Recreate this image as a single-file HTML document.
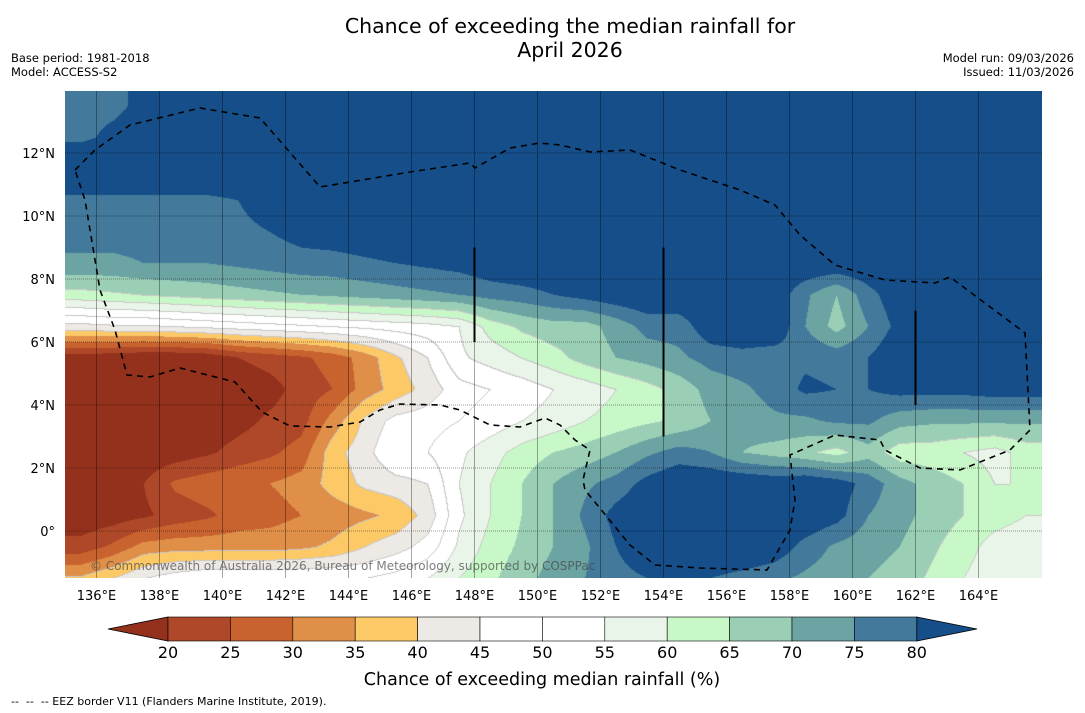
<!DOCTYPE html>
<html><head><meta charset="utf-8"><style>
body{margin:0;background:#fff;width:1085px;height:713px;overflow:hidden;position:relative;font-family:"DejaVu Sans",sans-serif}
.t{position:absolute;white-space:nowrap;color:#000}
canvas{position:absolute;left:65px;top:91px}
svg{position:absolute;left:0;top:0}
</style></head><body>
<div class="t" style="left:220px;width:700px;text-align:center;top:14px;font-size:20.5px;line-height:24px">Chance of exceeding the median rainfall for<br>April 2026</div>
<div class="t" style="left:11px;top:51px;font-size:11.5px;line-height:14px">Base period: 1981-2018<br>Model: ACCESS-S2</div>
<div class="t" style="right:11px;top:51px;font-size:11.5px;line-height:14px;text-align:right">Model run: 09/03/2026<br>Issued: 11/03/2026</div>
<canvas id="map" width="977" height="487"></canvas>
<svg id="ov" width="1085" height="713"></svg>
<div class="t" style="left:11px;top:695px;font-size:11px">--&nbsp; --&nbsp; -- EEZ border V11 (Flanders Marine Institute, 2019).</div>
<script>
const lons=[];for(let i=0;i<31;i++)lons.push(135.5+i);
const lats=[13.5,12.5,11.5,10.5,9.5,8.5,7.5,6.5,5.5,4.5,3.5,2.5,1.5,0.5,-0.5,-1.5];
const row13=[79,79,81,84,85,85,85,85,85,85,85,85,85,85,85,85,85,85,85,85,85,85,85,85,85,85,85,85,85,85,85];
const row12=[79,81,82,85,85,85,85,85,85,85,85,85,85,85,85,85,85,85,85,85,85,85,85,85,85,85,85,85,85,85,85];
const row11=[85,85,85,85,85,85,85,85,85,85,85,85,85,85,85,85,85,85,85,85,85,85,85,85,85,85,85,85,85,85,85];
const row10=[79,79,79,79,79,80,82,84,85,85,85,85,85,85,85,85,85,85,85,85,85,85,85,85,85,85,85,85,85,85,85];
const row9=[77,77,77,77,77,79,80,82,83,84,85,85,85,85,85,85,85,85,85,85,85,85,85,85,85,85,85,85,85,85,85];
const row8=[74,74,75,75,75,76,77,78,78,79,80,81,82,84,85,85,85,85,85,85,85,85,85,85,85,85,85,85,85,85,85];
const row7=[63,64,65,66,67,68,69,70,71,72,73,74,75,77,78,80,82,84,85,85,85,85,84,76,70,78,84,85,85,85,85];
const row6=[43,44,44,45,46,47,48,49,50,51,52,53,55,62,66,68,68,72,77,77,84,85,85,75,68,75,82,85,85,85,85];
const row5=[17,16,15,15,16,20,22,24,27,32,39,45,54,57,60,63,67,70,72,74,77,78,77,79,78,80,85,85,85,85,85];
const row4=[15,15,15,15,15,16,18,22,25,32,37,42,48,50,52,55,57,60,63,67,72,74,77,81,80,80,82,82,82,83,83];
const row3=[15,15,15,15,16,18,21,23,32,41,47,48,50,52,55,57,60,62,64,66,70,72,74,74,76,76,72,71,71,71,71];
const row2=[15,15,16,17,19,22,24,27,38,43,50,50,54,58,62,65,67,70,74,77,75,70,68,66,63,68,62,62,60,58,62];
const row1=[15,17,20,26,28,29,30,32,37,41,43,45,55,60,65,70,74,77,82,85,85,85,84,85,83,78,72,68,65,60,60];
const row0=[16,17,19,22,24,27,28,30,32,34,36,42,54,60,65,70,76,82,85,86,86,86,86,85,82,75,72,68,65,62,60];
const rowM0=[22,26,32,33,33,33,33,34,36,40,43,47,56,62,66,70,74,80,85,86,86,86,84,78,74,72,70,66,62,58,57];
const rowM1=[36,40,45,48,50,50,50,50,50,50,52,55,60,64,68,72,75,78,80,80,80,78,76,74,72,70,68,64,60,57,55];
const values=[row13,row12,row11,row10,row9,row8,row7,row6,row5,row4,row3,row2,row1,row0,rowM0,rowM1];
const levels=[20,25,30,35,40,45,50,55,60,65,70,75,80];
const colors=["#94311d","#ae4828","#c8622f","#df8f48","#fdc966","#ede9e5","#ffffff","#ffffff","#eaf5e9","#c9f8c8","#9bcfb5","#6ca3a3","#437a9b","#154e88"];
const xTicks=[136,138,140,142,144,146,148,150,152,154,156,158,160,162,164];
const yTicks=[0,2,4,6,8,10,12];
const cbLabels=[20,25,30,35,40,45,50,55,60,65,70,75,80];

const PX=31.5, X0=65, Y0=531;
const xS=lon=>X0+(lon-135)*PX;
const yS=lat=>Y0-lat*PX;
function rgb(h){return [parseInt(h.substr(1,2),16),parseInt(h.substr(3,2),16),parseInt(h.substr(5,2),16)];}
const crgb=colors.map(rgb);
function val(lon,lat){
  let fi=(lon-lons[0]),fj=(lats[0]-lat);
  fi=Math.max(0,Math.min(lons.length-1.0001,fi));fj=Math.max(0,Math.min(lats.length-1.0001,fj));
  const i=Math.floor(fi),j=Math.floor(fj),a=fi-i,b=fj-j;
  const v=values;
  return (1-a)*(1-b)*v[j][i]+a*(1-b)*v[j][i+1]+(1-a)*b*v[j+1][i]+a*b*v[j+1][i+1];
}
function bin(v){let k=0;while(k<levels.length&&v>=levels[k])k++;return k;}
const cv=document.getElementById('map'),ctx=cv.getContext('2d');
const img=ctx.createImageData(977,487);
const bins=new Uint8Array(977*487);
for(let y=0;y<487;y++)for(let x=0;x<977;x++){
  const lon=135+(x+0.5)/PX, lat=(Y0-91-(y+0.5))/PX;
  bins[y*977+x]=bin(val(lon,lat));
}
for(let y=0;y<487;y++)for(let x=0;x<977;x++){
  const k=bins[y*977+x];let c=crgb[k];
  const p=(y*977+x)*4;
  let edge=(x>0&&bins[y*977+x-1]!==k)||(y>0&&bins[(y-1)*977+x]!==k);
  if(edge&&k>=4&&k<=9){c=[200,200,200];}
  img.data[p]=c[0];img.data[p+1]=c[1];img.data[p+2]=c[2];img.data[p+3]=255;
}
ctx.putImageData(img,0,0);

const NS='http://www.w3.org/2000/svg';
const ov=document.getElementById('ov');
const FF='DejaVu Sans, sans-serif';
function mk(tag,attrs,parent){const e=document.createElementNS(NS,tag);for(const k in attrs)e.setAttribute(k,attrs[k]);(parent||ov).appendChild(e);return e;}
xTicks.forEach(t=>{
  const l=mk('line',{x1:xS(t),x2:xS(t),y1:91,y2:578,stroke:'rgba(0,0,0,0.35)','stroke-width':1});
  
  
  const tx=mk('text',{x:xS(t),y:600,'font-size':13,'text-anchor':'middle','font-family':FF});
  tx.textContent=t+'°E';
  
  
});
yTicks.forEach(t=>{
  const l=mk('line',{x1:65,x2:1042,y1:yS(t),y2:yS(t),stroke:'rgba(0,0,0,0.4)','stroke-width':1,'stroke-dasharray':'1,1'});
  
  
  const tx=mk('text',{x:55,y:yS(t)+5,'font-size':13,'text-anchor':'end','font-family':FF});
  tx.textContent=t===0?'0°':t+'°N';
  
  
});
[[148,9,6],[154,9,3],[162,7,4]].forEach(b=>{
  const l=mk('line',{x1:xS(b[0]),x2:xS(b[0]),y1:yS(b[1]),y2:yS(b[2]),stroke:'#000','stroke-width':2});
  
  
});
const eez=[[75,170],[95,150],[130,125],[200,108],[260,118],[320,187],[410,172],[470,163],[475,168],[510,148],[540,143],[560,145],[590,152],[630,150],[680,170],[740,190],[775,205],[800,235],[835,265],[885,280],[935,283],[950,277],[1025,333],[1030,430],[1010,450],[960,470],[920,468],[885,450],[880,440],[835,435],[790,455],[795,500],[790,530],[767,570],[700,568],[655,565],[630,545],[585,490],[583,480],[590,450],[575,440],[560,425],[545,418],[520,427],[490,425],[460,410],[440,405],[400,404],[380,410],[360,422],[330,427],[290,426],[262,412],[235,382],[180,368],[150,377],[127,375],[115,330],[100,290],[90,230],[85,200],[75,170]];
const pe=mk('polyline',{points:eez.map(p=>p.join(',')).join(' '),fill:'none',stroke:'#000','stroke-width':1.6,'stroke-dasharray':'6,5'});


const cr=mk('text',{x:90,y:570,'font-size':12,fill:'rgba(70,70,70,0.7)','font-family':FF});
cr.textContent='© Commonwealth of Australia 2026, Bureau of Meteorology, supported by COSPPac';


const cbX0=168,cbW=62.4,cbY=617,cbH=24;
const tl=mk('polygon',{points:`108,${cbY+cbH/2} ${cbX0},${cbY} ${cbX0},${cbY+cbH}`,fill:colors[0],stroke:'#000','stroke-width':0.8});


for(let k=1;k<colors.length-1;k++){
  const r=mk('rect',{x:cbX0+(k-1)*cbW,y:cbY,width:cbW,height:cbH,fill:colors[k],stroke:'#000','stroke-width':0.6});
  
  
}
const tr=mk('polygon',{points:`${cbX0+12*cbW},${cbY} 977,${cbY+cbH/2} ${cbX0+12*cbW},${cbY+cbH}`,fill:colors[13],stroke:'#000','stroke-width':0.8});


cbLabels.forEach((v,k)=>{
  const tx=mk('text',{x:cbX0+k*cbW,y:658,'font-size':16,'text-anchor':'middle','font-family':FF});
  tx.textContent=v;
  
  
});
const ct=mk('text',{x:542,y:685,'font-size':17.5,'text-anchor':'middle','font-family':FF});
ct.textContent='Chance of exceeding median rainfall (%)';


</script>
</body></html>
